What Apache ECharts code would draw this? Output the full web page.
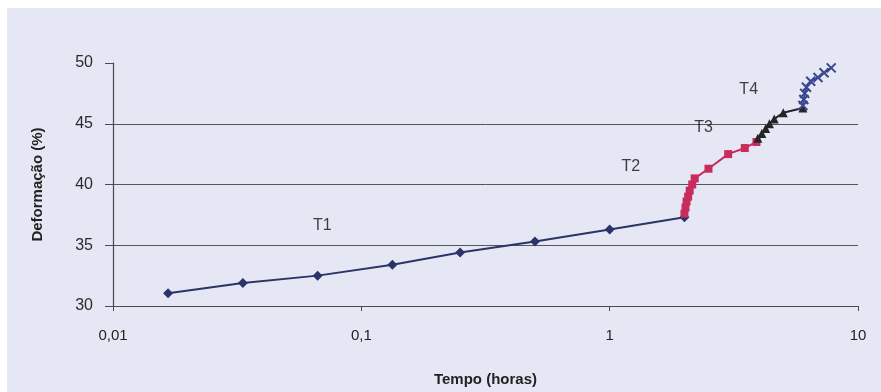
<!DOCTYPE html>
<html><head><meta charset="utf-8">
<script src="https://cdn.jsdelivr.net/npm/echarts@6/dist/echarts.min.js"></script>
<style>
html,body{margin:0;padding:0;background:#ffffff;}
#bg{position:absolute;left:7px;top:8px;width:874px;height:384px;background:#e6e7f4;}
#c{position:absolute;left:0;top:0;width:881px;height:392px;}
</style></head>
<body><div id="bg"></div><div id="c"></div>
<script>
// Tempo (horas) e Deformação (%)
const t1Time = [1/60, 2/60, 4/60, 8/60, 0.25, 0.5, 1, 2];
const t1Def  = [31.05, 31.9, 32.5, 33.4, 34.4, 35.3, 36.3, 37.3];
const t2Time = [2.0, 2.02, 2.04, 2.07, 2.1, 2.15, 2.2, 2.5, 3.0, 3.5, 3.9];
const t2Def  = [37.6, 38.1, 38.6, 39.0, 39.5, 40.0, 40.5, 41.3, 42.5, 43.0, 43.5];
const t3Time = [3.95, 4.1, 4.25, 4.4, 4.6, 5.0, 6.0];
const t3Def  = [43.8, 44.2, 44.6, 45.0, 45.4, 45.9, 46.3];
const t4Time = [6.0, 6.05, 6.1, 6.2, 6.45, 6.9, 7.3, 7.8];
const t4Def  = [46.5, 47.0, 47.5, 48.0, 48.5, 48.8, 49.2, 49.6];
const annNames = ['T1', 'T2', 'T3', 'T4'];
const annTime  = [0.0697, 1.216, 2.39, 3.63];
const annDef   = [36.6, 41.5, 44.7, 47.8];
const xTicks = [0.01, 0.1, 1, 10];
const xTickLabels = ['0,01', '0,1', '1', '10'];

const pairs = (xs, ys) => xs.map((x, i) => [x, ys[i]]);
const crossPath = 'path://M0,0L10,10M10,0L0,10';

const chart = echarts.init(document.getElementById('c'));
chart.setOption({
  backgroundColor: 'transparent',
  animation: false,
  grid: {left: 113, right: 23, top: 63, bottom: 82},
  xAxis: {
    type: 'log', logBase: 10, min: 0.01, max: 10,
    name: 'Tempo (horas)', nameLocation: 'middle', nameGap: 66,
    nameTextStyle: {fontFamily: 'Liberation Sans', fontSize: 15, fontWeight: 'bold', color: '#222'},
    axisLine: {lineStyle: {color: '#4a4a4a', width: 1.2}},
    axisTick: {show: true, length: 5, lineStyle: {color: '#4a4a4a'}},
    minorTick: {show: false},
    splitLine: {show: false},
    axisLabel: {
      margin: 22, fontFamily: 'Liberation Sans', fontSize: 15, color: '#222',
      formatter: v => { const i = xTicks.findIndex(t => Math.abs(t - v) / t < 1e-6); return i >= 0 ? xTickLabels[i] : ''; }
    }
  },
  yAxis: {
    type: 'value', min: 30, max: 50, interval: 5,
    name: 'Deformação (%)', nameLocation: 'middle', nameGap: 68,
    nameTextStyle: {fontFamily: 'Liberation Sans', fontSize: 15, fontWeight: 'bold', color: '#222'},
    axisLine: {show: true, lineStyle: {color: '#4a4a4a', width: 1.2}},
    axisTick: {show: true, length: 8, lineStyle: {color: '#4a4a4a'}},
    splitLine: {show: true, showMaxLine: false, lineStyle: {color: '#555', width: 1}},
    axisLabel: {margin: 20, fontFamily: 'Liberation Sans', fontSize: 16, color: '#2a2a2a'}
  },
  series: [
    {name: 'T1', type: 'line', data: pairs(t1Time, t1Def), symbol: 'diamond', symbolSize: 10,
      itemStyle: {color: '#2b3468'}, lineStyle: {color: '#2b3468', width: 2}},
    {name: 'T2', type: 'line', data: pairs(t2Time, t2Def), symbol: 'rect', symbolSize: 8,
      itemStyle: {color: '#c72c5c'}, lineStyle: {color: '#c72c5c', width: 2}},
    {name: 'T3', type: 'line', data: pairs(t3Time, t3Def), symbol: 'triangle', symbolSize: 9,
      itemStyle: {color: '#252525'}, lineStyle: {color: '#252525', width: 2}},
    {name: 'T4', type: 'line', data: pairs(t4Time, t4Def), symbol: crossPath, symbolSize: 9,
      itemStyle: {color: '#3a4790', borderColor: '#3a4790', borderWidth: 2}, lineStyle: {color: '#3a4790', width: 2}},
    {name: 'labels', type: 'scatter', data: pairs(annTime, annDef), symbolSize: 0, silent: true,
      label: {show: true, position: 'inside', formatter: p => annNames[p.dataIndex],
        fontFamily: 'Liberation Sans', fontSize: 16, color: '#111'}}
  ]
});
</script></body></html>
